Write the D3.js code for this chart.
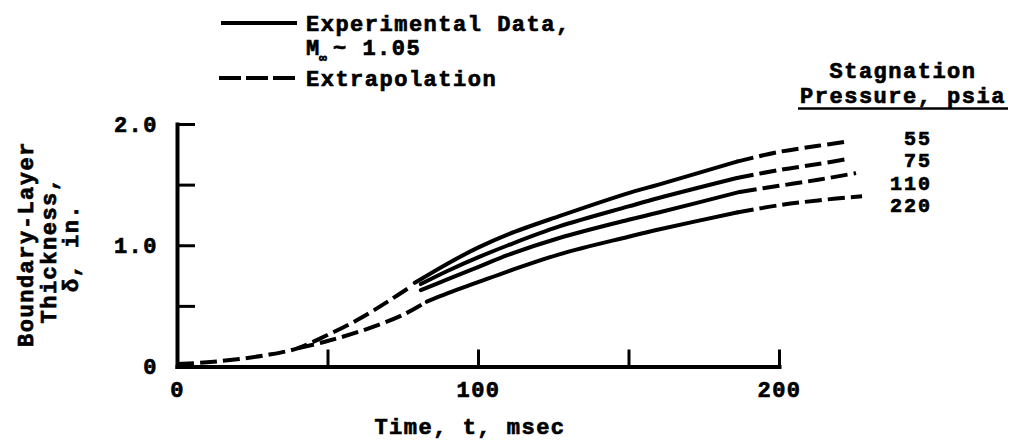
<!DOCTYPE html>
<html><head><meta charset="utf-8">
<script src="https://cdn.jsdelivr.net/npm/d3@7"></script>
<style>
body{margin:0;background:#fff;}
svg text{font-family:"Liberation Mono","DejaVu Sans Mono",monospace;font-weight:bold;fill:#000;}
</style></head>
<body><svg id="c" width="1010" height="441"></svg>
<script>
// ---- data ----
const xTicks = [0, 50, 100, 150, 200];
const xTickLabels = ["0", "", "100", "", "200"];
const yTicks = [0, 0.5, 1.0, 1.5, 2.0];
const yTickLabels = ["0", "", "1.0", "", "2.0"];
const pressures = ["55", "75", "110", "220"];

// shared early extrapolation (55, 75, 110 psia)
const commonT = [0, 10, 20, 30, 40, 50, 60, 70, 78];
const commonD = [0.02, 0.035, 0.06, 0.095, 0.15, 0.26, 0.385, 0.535, 0.665];
// 220 psia early extrapolation
const early220T = [40, 50, 62, 75, 83];
const early220D = [0.15, 0.21, 0.30, 0.425, 0.535];

// experimental (solid)
const solid55T = [79, 90, 100, 110, 127, 150, 160, 186];
const solid55D = [0.69, 0.85, 0.98, 1.09, 1.24, 1.43, 1.50, 1.69];
const solid75T = [81, 90, 100, 110, 127, 150, 160, 186];
const solid75D = [0.68, 0.79, 0.90, 1.00, 1.155, 1.32, 1.39, 1.555];
const solid110T = [81, 90, 100, 110, 127, 150, 160, 187];
const solid110D = [0.63, 0.72, 0.82, 0.92, 1.06, 1.21, 1.27, 1.44];
const solid220T = [83, 90, 100, 110, 127, 150, 160, 186];
const solid220D = [0.535, 0.605, 0.695, 0.785, 0.925, 1.07, 1.13, 1.27];

// late extrapolation (dashed)
const late55T = [186, 200, 213, 222.6];
const late55D = [1.69, 1.77, 1.82, 1.855];
const late75T = [186, 200, 213, 223.6];
const late75D = [1.555, 1.62, 1.67, 1.715];
const late110T = [187, 200, 213, 225.6];
const late110D = [1.44, 1.49, 1.54, 1.595];
const late220T = [186, 200, 213, 227.6];
const late220D = [1.27, 1.33, 1.37, 1.405];

// ---- drawing ----
const svg = d3.select("#c");
const x = d3.scaleLinear().domain([0, 200]).range([177, 779]);
const y = d3.scaleLinear().domain([0, 2]).range([366.5, 124]);
const FS = 22, LS = 1.5, SW = 0.7;

const zip = (t, d) => t.map((v, i) => [v, d[i]]);
const line = d3.line().x(p => x(p[0])).y(p => y(p[1])).curve(d3.curveCatmullRom.alpha(0.5));

const solids = [zip(solid55T, solid55D), zip(solid75T, solid75D), zip(solid110T, solid110D), zip(solid220T, solid220D)];
const dashed = [zip(commonT, commonD), zip(early220T, early220D),
  zip(late55T, late55D), zip(late75T, late75D), zip(late110T, late110D), zip(late220T, late220D)];

svg.append("g").selectAll("path").data(solids).join("path")
  .attr("d", line).attr("fill", "none").attr("stroke", "#000")
  .attr("stroke-width", 4).attr("stroke-linecap", "round");
svg.append("g").selectAll("path").data(dashed).join("path")
  .attr("d", line).attr("fill", "none").attr("stroke", "#000")
  .attr("stroke-width", 4).attr("stroke-dasharray", "17,6").attr("stroke-linecap", "butt");

// axes
const xAxis = d3.axisBottom(x).tickValues(xTicks)
  .tickFormat((d, i) => xTickLabels[i]).tickSizeInner(-17).tickSizeOuter(0).tickPadding(15);
const gx = svg.append("g").attr("transform", `translate(0,${y(0)})`).call(xAxis);
const yAxis = d3.axisLeft(y).tickValues(yTicks)
  .tickFormat((d, i) => yTickLabels[i]).tickSizeInner(-18).tickSizeOuter(0).tickPadding(19);
const gy = svg.append("g").attr("transform", `translate(${x(0)},0)`).call(yAxis);

[gx, gy].forEach(g => {
  g.select(".domain").attr("stroke", "#000").attr("stroke-width", 4).attr("stroke-linecap", "square");
  g.selectAll(".tick line").attr("stroke", "#000").attr("stroke-width", 3);
  g.selectAll(".tick text").attr("font-size", FS).attr("font-family", null)
    .style("letter-spacing", LS + "px").attr("stroke", "#000").attr("stroke-width", SW);
});
gx.selectAll(".tick text").attr("dy", "0.71em");

function txt(str, tx, ty, anchor, opts = {}) {
  const t = svg.append("text").attr("x", tx).attr("y", ty)
    .attr("text-anchor", anchor || "start").attr("font-size", opts.fs || FS)
    .style("letter-spacing", (opts.ls !== undefined ? opts.ls : LS) + "px")
    .attr("stroke", "#000").attr("stroke-width", SW).text(str);
  if (opts.rot) t.attr("transform", `rotate(-90,${tx},${ty})`);
  return t;
}

// axis titles
txt("Time, t, msec", 470, 434, "middle");
txt("Boundary-Layer", 33, 244, "middle", {rot: true});
txt("Thickness,", 56, 250, "middle", {rot: true});
txt("δ, in.", 78, 248, "middle", {rot: true});

// legend
svg.append("line").attr("x1", 221).attr("x2", 297).attr("y1", 23).attr("y2", 23)
  .attr("stroke", "#000").attr("stroke-width", 4);
svg.append("line").attr("x1", 219).attr("x2", 297).attr("y1", 78).attr("y2", 78)
  .attr("stroke", "#000").attr("stroke-width", 4).attr("stroke-dasharray", "22,5");
txt("Experimental Data,", 306, 31, "start");
const mt = txt("M", 306, 55, "start");
mt.append("tspan").attr("font-size", 13).style("letter-spacing", "0px")
  .attr("x", 319).attr("dy", 7).text("∞");
mt.append("tspan").attr("x", 333).attr("dy", -7).text("~ 1.05");
txt("Extrapolation", 306, 86, "start");

// pressure labels
txt("Stagnation", 903, 78, "middle");
txt("Pressure, psia", 903, 103, "middle");
svg.append("line").attr("x1", 798).attr("x2", 1008).attr("y1", 108.5).attr("y2", 108.5)
  .attr("stroke", "#000").attr("stroke-width", 2.5);
svg.append("g").selectAll("text").data(pressures).join("text")
  .attr("x", 932).attr("y", (d, i) => 145 + i * 22.4).attr("text-anchor", "end")
  .attr("font-size", 20).style("letter-spacing", "2px")
  .attr("stroke", "#000").attr("stroke-width", SW).text(d => d);
</script></body></html>
